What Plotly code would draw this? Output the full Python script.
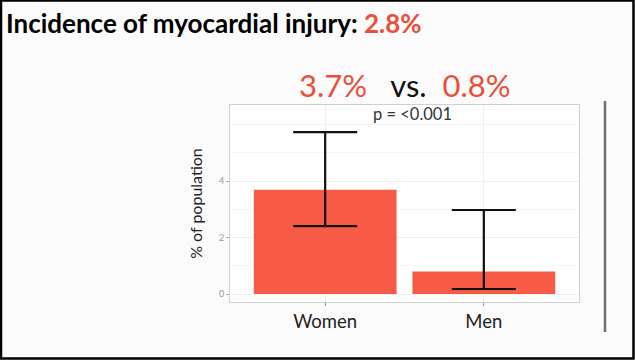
import plotly.graph_objects as go

categories = ["Women", "Men"]
incidence = [3.7, 0.8]
ci_upper = [5.74, 2.98]
ci_lower = [2.41, 0.18]
y_ticks = [0, 2, 4]
title_text = "Incidence of myocardial injury: "
overall = "2.8%"
p_text = "p = <0.001"

W, H = 635, 360
L, R, T, B = 230, 579, 105, 302

def px(x):
    return (x - L) / (R - L)

def py(y):
    return (B - y) / (B - T)

err_plus = [u - v for u, v in zip(ci_upper, incidence)]
err_minus = [v - l for v, l in zip(incidence, ci_lower)]

red = "#F85A48"

fig = go.Figure()
fig.add_trace(go.Bar(
    x=categories, y=incidence, width=0.9,
    marker=dict(color=red, line=dict(width=0)),
    error_y=dict(type="data", array=err_plus, arrayminus=err_minus,
                 color="#111111", thickness=2.2, width=32),
    hoverinfo="skip",
))

fig.update_layout(
    width=W, height=H,
    margin=dict(l=L, r=W - R, t=T, b=H - B),
    paper_bgcolor="#fbfbfb", plot_bgcolor="white",
    showlegend=False,
    font=dict(family="Lato", color="#222"),
    xaxis=dict(range=[-0.6, 1.6], showline=True, mirror=True, linecolor="#cfcfcf", linewidth=1,
               showgrid=True, gridcolor="#efefef", gridwidth=1,
               ticks="outside", ticklen=3, tickcolor="#999", tickwidth=1,
               tickfont=dict(size=18.5, color="#222", family="Lato"), zeroline=False),
    yaxis=dict(range=[-0.28, 6.7], showline=True, mirror=True, linecolor="#cfcfcf", linewidth=1,
               tickvals=y_ticks, ticks="outside", ticklen=3, tickcolor="#aaa",
               tickfont=dict(size=9, color="#999"), showgrid=True, gridcolor="#efefef",
               minor=dict(dtick=1, showgrid=True, gridcolor="#f6f6f6"), zeroline=False,
               title=dict(text="% of population", font=dict(size=16, color="#222"), standoff=12)),
)

ann = []
ann.append(dict(xref="paper", yref="paper", x=px(4), y=py(23), xanchor="left", yanchor="middle",
                showarrow=False,
                text="<b>" + title_text + "</b><b><span style='color:#E8503A'>" + overall + "</span></b>",
                font=dict(size=26, color="black", family="Lato")))
ann.append(dict(xref="paper", yref="paper", x=px(405), y=py(85), xanchor="center", yanchor="middle",
                showarrow=False,
                text="<span style='color:#E8503A'>" + f"{incidence[0]}%" + "</span>   vs.  "
                     + "<span style='color:#E8503A'>" + f"{incidence[1]}%" + "</span>",
                font=dict(size=31, color="#111", family="Lato")))
ann.append(dict(xref="paper", yref="paper", x=px(412), y=py(114), xanchor="center", yanchor="middle",
                showarrow=False, text=p_text, font=dict(size=16.5, color="#333", family="Lato")))
fig.update_layout(annotations=ann)

shapes = [
    dict(type="line", xref="paper", yref="paper", x0=px(605), x1=px(605), y0=py(101), y1=py(332),
         line=dict(color="#6f6f6f", width=2.5)),
    dict(type="rect", xref="paper", yref="paper", x0=px(1), x1=px(633.5), y0=py(0.5), y1=py(358.5),
         line=dict(color="black", width=2.5), fillcolor="rgba(0,0,0,0)"),
]
fig.update_layout(shapes=shapes)

fig.write_html("out.html", config={"displayModeBar": False},
               post_script="document.body.style.margin='0';document.body.style.overflow='hidden';")
